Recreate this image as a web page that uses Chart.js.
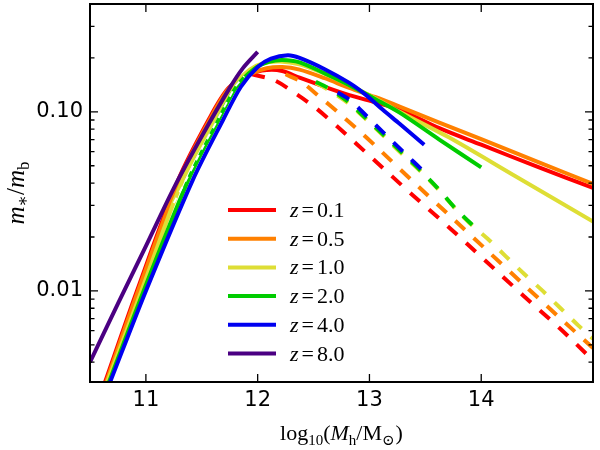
<!DOCTYPE html>
<html><head><meta charset="utf-8">
<script src="https://cdn.jsdelivr.net/npm/chart.js@4"></script>
<style>html,body{margin:0;padding:0;background:#fff}canvas{display:block}</style>
</head><body>
<canvas id="c" width="600" height="450"></canvas>
<script>
const redshiftLabels = ['0.1','0.5','1.0','2.0','4.0','8.0'];
const lineColors = ['#ff0000','#ff8000','#dede35','#00cc00','#0000f0','#4b0082'];
const xTicks = [11,12,13,14];
const yTickValues = [0.01, 0.1];
const yTickLabels = ['0.01','0.10'];
const yMinorTicks = [0.004,0.005,0.006,0.007,0.008,0.009,0.02,0.03,0.04,0.05,0.06,0.07,0.08,0.09,0.2,0.3];

// solid curves
const z01SolidX = [10.635,10.92,11.29,11.56,11.74,11.93,12.08,12.22,12.375,12.6,12.82,13.05,13.27,13.625,14.0,14.5,15.0];
const z01SolidY = [0.0031,0.0100,0.0417,0.090,0.136,0.162,0.171,0.169,0.155,0.138,0.124,0.113,0.103,0.081,0.0655,0.0494,0.0376];
const z05SolidX = [10.645,10.93,11.30,11.57,11.75,11.94,12.08,12.22,12.375,12.6,12.82,13.05,13.27,13.625,14.0,14.5,15.0];
const z05SolidY = [0.0031,0.0100,0.0417,0.090,0.137,0.163,0.175,0.178,0.172,0.154,0.136,0.121,0.107,0.087,0.0703,0.0527,0.0396];
const z10SolidX = [10.655,10.96,11.33,11.61,11.78,11.93,12.05,12.2,12.375,12.6,12.82,13.05,13.27,13.71,14.31,15.0];
const z10SolidY = [0.0031,0.0100,0.0417,0.090,0.138,0.172,0.187,0.191,0.184,0.163,0.141,0.119,0.100,0.072,0.0435,0.0244];
const z20SolidX = [10.67,10.98,11.38,11.65,11.81,11.97,12.1,12.22,12.375,12.6,12.82,13.05,13.27,13.625,14.0];
const z20SolidY = [0.0031,0.0100,0.0417,0.090,0.138,0.174,0.190,0.195,0.189,0.164,0.141,0.118,0.099,0.070,0.049];
const z40SolidX = [10.68,11.0,11.42,11.69,11.85,12.0,12.12,12.27,12.375,12.6,12.82,12.97,13.12,13.27,13.49];
const z40SolidY = [0.0031,0.0100,0.0417,0.090,0.138,0.178,0.198,0.207,0.200,0.173,0.145,0.124,0.1026,0.0857,0.0655];
const z80SolidX = [10.5,10.75,11.0,11.25,11.5,11.75,11.87,12.0];
const z80SolidY = [0.0040,0.0085,0.0178,0.0375,0.073,0.136,0.176,0.216];

// dashed curves
const z01DashX = [11.95,12.15,12.36,12.52,12.71,13.04,13.37,13.71,14.04,14.37,14.70,15.0];
const z01DashY = [0.162,0.150,0.124,0.105,0.083,0.054,0.035,0.0227,0.0147,0.0095,0.0062,0.0041];
const z05DashX = [12.25,12.39,12.55,12.73,12.90,13.06,13.39,13.71,14.04,14.37,14.70,15.0];
const z05DashY = [0.162,0.147,0.122,0.098,0.079,0.064,0.0408,0.0266,0.0171,0.011,0.0071,0.0048];
const z10DashX = [12.52,12.62,12.80,12.96,13.12,13.28,13.45,13.61,13.76,13.89,14.06,14.22,14.38,14.55,14.71,14.87,15.0];
const z10DashY = [0.145,0.134,0.113,0.092,0.074,0.059,0.047,0.0372,0.0292,0.0241,0.0195,0.0156,0.0125,0.0100,0.0080,0.0064,0.0054];
const z20DashX = [12.52,12.62,12.80,12.96,13.12,13.28,13.45,13.61,13.76,13.91,14.0];
const z20DashY = [0.147,0.137,0.115,0.093,0.075,0.060,0.0475,0.0375,0.0293,0.0237,0.0212];
const z40DashX = [12.66,12.82,12.98,13.13,13.30,13.50];
const z40DashY = [0.134,0.117,0.094,0.076,0.060,0.0455];

// thin white dashed curve over the rising bundle
const whiteDashX = [11.25,11.36,11.5,11.64,11.80,11.88];
const whiteDashY = [0.031,0.0417,0.062,0.090,0.138,0.158];

function pts(xs, ys) { return xs.map((x, i) => ({x: x, y: ys[i]})); }

const solids = [[z01SolidX,z01SolidY],[z05SolidX,z05SolidY],[z10SolidX,z10SolidY],[z20SolidX,z20SolidY],[z40SolidX,z40SolidY],[z80SolidX,z80SolidY]];
const dashes = [[z01DashX,z01DashY],[z05DashX,z05DashY],[z10DashX,z10DashY],[z20DashX,z20DashY],[z40DashX,z40DashY]];
const dashOffsets = [0, 0, 0, 0, 17.8];

const datasets = [];
for (let i = 0; i < 6; i++) {
  datasets.push({label: 'z=' + redshiftLabels[i], data: pts(solids[i][0], solids[i][1]), borderColor: lineColors[i], borderWidth: 4, borderCapStyle: 'butt'});
  if (i < 5) datasets.push({label: 'z=' + redshiftLabels[i] + ' (dashed)', data: pts(dashes[i][0], dashes[i][1]), borderColor: lineColors[i], borderWidth: 4, borderDash: [13, 12], borderDashOffset: dashOffsets[i], borderCapStyle: 'butt'});
}
datasets.push({label: 'white', data: pts(whiteDashX, whiteDashY), borderColor: '#ffffff', borderWidth: 2, borderDash: [6, 6]});
datasets.forEach((d, i) => { d.order = -i; d.pointRadius = 0; d.fill = false; d.clip = 0; d.tension = 0.3; });

function drawRich(ctx, parts, x, y, align) {
  let w = 0;
  parts.forEach(p => { ctx.font = p[1]; w += ctx.measureText(p[0]).width + (p[3] || 0); });
  let cx = align === 'center' ? x - w / 2 : x;
  parts.forEach(p => { ctx.font = p[1]; ctx.fillText(p[0], cx, y + (p[2] || 0)); cx += ctx.measureText(p[0]).width + (p[3] || 0); });
}

const SERIF = '"Liberation Serif", "DejaVu Serif", serif';
const framePlugin = {
  id: 'frame',
  afterDatasetsDraw(chart) {
    const ctx = chart.ctx, a = chart.chartArea, xs = chart.scales.x, ys = chart.scales.y;
    ctx.save();
    ctx.strokeStyle = '#000';
    ctx.lineWidth = 1.3;
    ctx.beginPath();
    xTicks.forEach(v => { const p = xs.getPixelForValue(v); ctx.moveTo(p, a.bottom); ctx.lineTo(p, a.bottom - 8); ctx.moveTo(p, a.top); ctx.lineTo(p, a.top + 8); });
    yTickValues.forEach(v => { const p = ys.getPixelForValue(v); ctx.moveTo(a.left, p); ctx.lineTo(a.left + 8, p); ctx.moveTo(a.right, p); ctx.lineTo(a.right - 8, p); });
    yMinorTicks.forEach(v => { const p = ys.getPixelForValue(v); ctx.moveTo(a.left, p); ctx.lineTo(a.left + 4.5, p); ctx.moveTo(a.right, p); ctx.lineTo(a.right - 4.5, p); });
    ctx.stroke();
    ctx.lineWidth = 2;
    ctx.strokeRect(a.left, a.top, a.right - a.left, a.bottom - a.top);

    // legend
    ctx.fillStyle = '#000';
    ctx.textAlign = 'left';
    ctx.textBaseline = 'alphabetic';
    for (let i = 0; i < 6; i++) {
      const ly = 210 + i * 28.7;
      ctx.strokeStyle = lineColors[i];
      ctx.lineWidth = 4;
      ctx.lineCap = 'butt';
      ctx.beginPath(); ctx.moveTo(228, ly); ctx.lineTo(276, ly); ctx.stroke();
      drawRich(ctx, [['z', 'italic 22px ' + SERIF, 0, 3], ['=', '22px ' + SERIF, 0, 3], [redshiftLabels[i], '22px ' + SERIF]], 290, ly + 7, 'left');
    }

    // x title
    const big = '22px ' + SERIF, small = '15px ' + SERIF;
    drawRich(ctx, [['log', big], ['10', small, 5], ['(', big], ['M', 'italic ' + big], ['h', small, 5], ['/M', big], ['⊙', small, 5, 1], [')', big]], (a.left + a.right) / 2, 440, 'center');

    // y title
    const ybig = '25px ' + SERIF, ysmall = '17px ' + SERIF;
    ctx.save();
    ctx.translate(24, (a.top + a.bottom) / 2);
    ctx.rotate(-Math.PI / 2);
    drawRich(ctx, [['m', 'italic ' + ybig], ['∗', ysmall, 4], ['/', ybig], ['m', 'italic ' + ybig], ['b', ysmall, 5]], 0, 0, 'center');
    ctx.restore();
    ctx.restore();
  }
};

new Chart(document.getElementById('c'), {
  type: 'line',
  data: {datasets: datasets},
  options: {
    responsive: false,
    animation: false,
    devicePixelRatio: 1,
    layout: {padding: {left: 0, right: 7, top: 4, bottom: 0}},
    plugins: {legend: {display: false}, tooltip: {enabled: false}},
    scales: {
      x: {
        type: 'linear', min: 10.5, max: 15.0,
        grid: {display: false, drawTicks: false}, border: {display: false},
        afterBuildTicks: s => { s.ticks = xTicks.map(v => ({value: v})); },
        afterFit: s => { s.height = 68; s.paddingLeft = 0; s.paddingRight = 0; s.paddingTop = 0; s.paddingBottom = 0; },
        ticks: {autoSkip: false, maxRotation: 0, padding: 6, color: '#000', font: {family: 'DejaVu Sans', size: 21}, callback: v => String(v)}
      },
      y: {
        type: 'logarithmic', min: 0.0031, max: 0.4,
        grid: {display: false, drawTicks: false}, border: {display: false},
        afterBuildTicks: s => { s.ticks = yTickValues.map(v => ({value: v})); },
        afterFit: s => { s.width = 90; s.paddingLeft = 0; s.paddingRight = 0; s.paddingTop = 0; s.paddingBottom = 0; },
        ticks: {autoSkip: false, padding: 7, color: '#000', font: {family: 'DejaVu Sans', size: 21}, callback: v => { const k = yTickValues.indexOf(v); return k >= 0 ? yTickLabels[k] : ''; }}
      }
    }
  },
  plugins: [framePlugin]
});
</script>
</body></html>
